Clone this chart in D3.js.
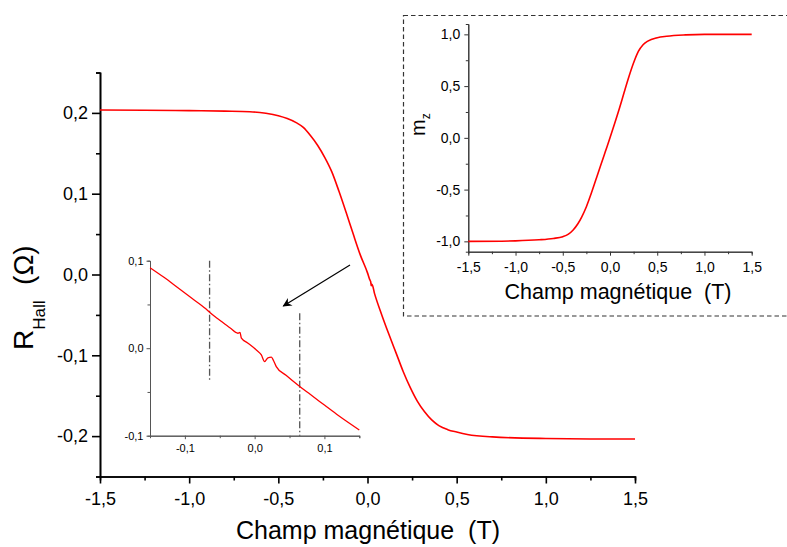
<!DOCTYPE html>
<html>
<head>
<meta charset="utf-8">
<script src="https://cdn.jsdelivr.net/npm/d3@7"></script>
<style>
  html, body { margin: 0; padding: 0; background: #fff; }
  svg { display: block; font-family: "Liberation Sans", Arial, sans-serif; }
  text { white-space: pre; }
</style>
</head>
<body>
<svg id="chart" width="787" height="547"></svg>
<script>
// ---- Main chart data: R_Hall (Ohm) vs field (T) ----
const mainField = [-1.5, -1.25, -1.0, -0.8, -0.66, -0.57, -0.5, -0.45, -0.4, -0.36, -0.32, -0.28, -0.24, -0.2, -0.16, -0.12, -0.08, -0.04,
  0.0, 0.012, 0.018, 0.021, 0.025, 0.04, 0.08, 0.12, 0.16, 0.2, 0.24, 0.28, 0.32, 0.36, 0.4, 0.45, 0.5, 0.56, 0.7, 1.0, 1.25, 1.5];
const mainRHall = [0.2036, 0.2033, 0.2028, 0.2022, 0.2015, 0.1995, 0.1965, 0.193, 0.188, 0.182, 0.172, 0.160, 0.145, 0.127, 0.103, 0.077, 0.050, 0.024,
  0.002, -0.006, -0.009, -0.014, -0.012, -0.024, -0.050, -0.074, -0.097, -0.120, -0.140, -0.157, -0.170, -0.180, -0.187, -0.192, -0.195, -0.198, -0.201, -0.203, -0.2035, -0.2035];
const mainXTicks = [-1.5, -1.0, -0.5, 0.0, 0.5, 1.0, 1.5];
const mainXMinor = [-1.25, -0.75, -0.25, 0.25, 0.75, 1.25];
const mainYTicks = [-0.2, -0.1, 0.0, 0.1, 0.2];
const mainYMinor = [-0.25, -0.15, -0.05, 0.05, 0.15, 0.25];

// ---- Zoom inset data (around zero field) ----
const zoomField = [-0.15, -0.13, -0.11, -0.09, -0.07, -0.0646, -0.05, -0.035, -0.024, -0.021, -0.019, -0.01, 0.0024, 0.0096,
  0.0143, 0.019, 0.024, 0.027, 0.031, 0.045, 0.0646, 0.08, 0.1, 0.12, 0.15];
const zoomRHall = [0.092, 0.081, 0.069, 0.057, 0.045, 0.041, 0.032, 0.023, 0.0171, 0.018, 0.0114, 0.006, -0.002, -0.0077,
  -0.0153, -0.011, -0.0103, -0.014, -0.021, -0.031, -0.0438, -0.053, -0.065, -0.077, -0.0935];
const zoomXTicks = [-0.1, 0.0, 0.1];
const zoomXMinor = [-0.05, 0.05, 0.15];
const zoomYTicks = [-0.1, 0.0, 0.1];
const zoomYMinor = [-0.05, 0.05];
const markerField = [-0.0646, 0.0646];
const markerFrom = [0.1, 0.04];
const markerTo = [-0.036, -0.1];

// ---- Magnetisation inset data ----
const magField = [-1.5, -1.0, -0.75, -0.6, -0.5, -0.44, -0.39, -0.34, -0.3, -0.25, -0.2, -0.15, -0.1, -0.05,
  0.0, 0.05, 0.1, 0.15, 0.2, 0.25, 0.3, 0.35, 0.4, 0.5, 0.6, 0.8, 1.0, 1.5];
const magMz = [-1.0, -0.995, -0.985, -0.972, -0.955, -0.93, -0.89, -0.83, -0.765, -0.665, -0.54, -0.405, -0.27, -0.135,
  0.0, 0.14, 0.285, 0.44, 0.59, 0.725, 0.835, 0.9, 0.935, 0.968, 0.982, 0.995, 1.0, 1.0];
const magXTicks = [-1.5, -1.0, -0.5, 0.0, 0.5, 1.0, 1.5];
const magXMinor = [-1.25, -0.75, -0.25, 0.25, 0.75, 1.25];
const magYTicks = [-1.0, -0.5, 0.0, 0.5, 1.0];
const magYMinor = [-0.75, -0.25, 0.25, 0.75];

// arrow annotation in main-chart data coordinates: [field, R]
const arrowStart = [-0.098, 0.0118];
const arrowEnd = [-0.472, -0.039];

const fmt = d => (d < 0 ? "-" : "") + Math.abs(d).toFixed(1).replace(".", ",");

const svg = d3.select("#chart");
svg.append("rect").attr("width", 787).attr("height", 547).attr("fill", "#fff");

svg.append("defs").append("marker")
  .attr("id", "arrowhead").attr("viewBox", "0 0 10 10")
  .attr("refX", 9).attr("refY", 5)
  .attr("markerWidth", 13).attr("markerHeight", 9)
  .attr("markerUnits", "userSpaceOnUse")
  .attr("orient", "auto")
  .append("path").attr("d", "M0,0 L10,5 L0,10 L3,5 Z").attr("fill", "#000");

function styleAxis(g, color, width, fontSize) {
  g.selectAll("path.domain").attr("stroke", color).attr("stroke-width", width);
  g.selectAll("line").attr("stroke", color).attr("stroke-width", width);
  g.selectAll("text").attr("fill", "#000").attr("font-size", fontSize)
    .attr("font-family", "'Liberation Sans', Arial, sans-serif");
}

// ================= Main chart =================
const xMain = d3.scaleLinear().domain([-1.5, 1.5]).range([100, 635]);
const yMain = d3.scaleLinear().domain([-0.25, 0.25]).range([476.5, 72.5]);

const gxMinor = svg.append("g").attr("transform", "translate(0,476.5)")
  .call(d3.axisBottom(xMain).tickValues(mainXMinor).tickSize(4).tickFormat(""));
styleAxis(gxMinor, "#000", 1.6, 18);
const gx = svg.append("g").attr("transform", "translate(0,476.5)")
  .call(d3.axisBottom(xMain).tickValues(mainXTicks).tickSize(7).tickSizeOuter(0).tickPadding(9).tickFormat(fmt));
styleAxis(gx, "#000", 1.6, 18);

const gyMinor = svg.append("g").attr("transform", "translate(100,0)")
  .call(d3.axisLeft(yMain).tickValues(mainYMinor).tickSize(4).tickFormat(""));
styleAxis(gyMinor, "#000", 1.6, 18);
const gy = svg.append("g").attr("transform", "translate(100,0)")
  .call(d3.axisLeft(yMain).tickValues(mainYTicks).tickSize(8).tickSizeOuter(0).tickPadding(4).tickFormat(fmt));
styleAxis(gy, "#000", 1.6, 18);

const mainData = mainField.map((f, i) => [f, mainRHall[i]]);
svg.append("path").datum(mainData)
  .attr("fill", "none").attr("stroke", "#ff0000").attr("stroke-width", 1.6)
  .attr("d", d3.line().x(d => xMain(d[0])).y(d => yMain(d[1])).curve(d3.curveMonotoneX));

svg.append("text")
  .attr("x", 368).attr("y", 539)
  .attr("text-anchor", "middle").attr("font-size", 25).attr("fill", "#000")
  .text("Champ magnétique  (T)");

const yTitle = svg.append("text")
  .attr("transform", "translate(33,350) rotate(-90)")
  .attr("font-size", 28).attr("fill", "#000");
yTitle.append("tspan").text("R");
yTitle.append("tspan").attr("font-size", 17).attr("dy", 12).text("Hall");
yTitle.append("tspan").attr("dy", -12).text("  (Ω)");

// arrow
svg.append("line")
  .attr("x1", xMain(arrowStart[0])).attr("y1", yMain(arrowStart[1]))
  .attr("x2", xMain(arrowEnd[0])).attr("y2", yMain(arrowEnd[1]))
  .attr("stroke", "#000").attr("stroke-width", 1.2)
  .attr("marker-end", "url(#arrowhead)");

// ================= Zoom inset =================
const xZoom = d3.scaleLinear().domain([-0.15, 0.15]).range([150, 359.3]);
const yZoom = d3.scaleLinear().domain([-0.1, 0.1]).range([435.7, 260.7]);
const zc = "#555";

const zxMinor = svg.append("g").attr("transform", "translate(0,435.7)")
  .call(d3.axisBottom(xZoom).tickValues(zoomXMinor).tickSize(2.5).tickFormat(""));
styleAxis(zxMinor, zc, 1, 11);
const zx = svg.append("g").attr("transform", "translate(0,435.7)")
  .call(d3.axisBottom(xZoom).tickValues(zoomXTicks).tickSize(3.5).tickSizeOuter(0).tickPadding(5).tickFormat(fmt));
styleAxis(zx, zc, 1, 11);
const zyMinor = svg.append("g").attr("transform", "translate(150,0)")
  .call(d3.axisLeft(yZoom).tickValues(zoomYMinor).tickSize(2.5).tickFormat(""));
styleAxis(zyMinor, zc, 1, 11);
const zy = svg.append("g").attr("transform", "translate(150,0)")
  .call(d3.axisLeft(yZoom).tickValues(zoomYTicks).tickSize(3.5).tickSizeOuter(0).tickPadding(3).tickFormat(fmt));
styleAxis(zy, zc, 1, 11);

svg.append("g").selectAll("line").data(markerField).join("line")
  .attr("x1", d => xZoom(d)).attr("x2", d => xZoom(d))
  .attr("y1", (d, i) => yZoom(markerFrom[i])).attr("y2", (d, i) => yZoom(markerTo[i]))
  .attr("stroke", "#555").attr("stroke-width", 1.3)
  .attr("stroke-dasharray", "7,2.5,1.5,2.5");

const zoomData = zoomField.map((f, i) => [f, zoomRHall[i]]);
svg.append("path").datum(zoomData)
  .attr("fill", "none").attr("stroke", "#ff0000").attr("stroke-width", 1.3)
  .attr("d", d3.line().x(d => xZoom(d[0])).y(d => yZoom(d[1])).curve(d3.curveMonotoneX));

// ================= Magnetisation inset =================
svg.append("rect")
  .attr("x", 403.5).attr("y", 15.5).attr("width", 420).attr("height", 300.5)
  .attr("fill", "none").attr("stroke", "#333").attr("stroke-width", 1.2)
  .attr("stroke-dasharray", "4.5,3");

const xMag = d3.scaleLinear().domain([-1.5, 1.5]).range([468.3, 751.7]);
const yMag = d3.scaleLinear().domain([-1.1, 1.1]).range([251.7, 24]);
const mc = "#333";

const mxMinor = svg.append("g").attr("transform", "translate(0,251.7)")
  .call(d3.axisBottom(xMag).tickValues(magXMinor).tickSize(2.5).tickFormat(""));
styleAxis(mxMinor, mc, 1, 14);
const mx = svg.append("g").attr("transform", "translate(0,251.7)")
  .call(d3.axisBottom(xMag).tickValues(magXTicks).tickSize(4).tickSizeOuter(0).tickPadding(6).tickFormat(fmt));
styleAxis(mx, mc, 1, 14);
const myMinor = svg.append("g").attr("transform", "translate(468.3,0)")
  .call(d3.axisLeft(yMag).tickValues(magYMinor).tickSize(2.5).tickFormat(""));
styleAxis(myMinor, mc, 1, 14);
const my = svg.append("g").attr("transform", "translate(468.3,0)")
  .call(d3.axisLeft(yMag).tickValues(magYTicks).tickSize(4).tickSizeOuter(0).tickPadding(4).tickFormat(fmt));
styleAxis(my, mc, 1, 14);

const magData = magField.map((f, i) => [f, magMz[i]]);
svg.append("path").datum(magData)
  .attr("fill", "none").attr("stroke", "#ff0000").attr("stroke-width", 1.6)
  .attr("d", d3.line().x(d => xMag(d[0])).y(d => yMag(d[1])).curve(d3.curveMonotoneX));

svg.append("text")
  .attr("x", 618).attr("y", 298.5)
  .attr("text-anchor", "middle").attr("font-size", 21.5).attr("fill", "#000")
  .text("Champ magnétique  (T)");

const mTitle = svg.append("text")
  .attr("transform", "translate(425,136) rotate(-90)")
  .attr("font-size", 20).attr("fill", "#000");
mTitle.append("tspan").text("m");
mTitle.append("tspan").attr("font-size", 12).attr("dy", 5).text("z");
</script>
</body>
</html>
